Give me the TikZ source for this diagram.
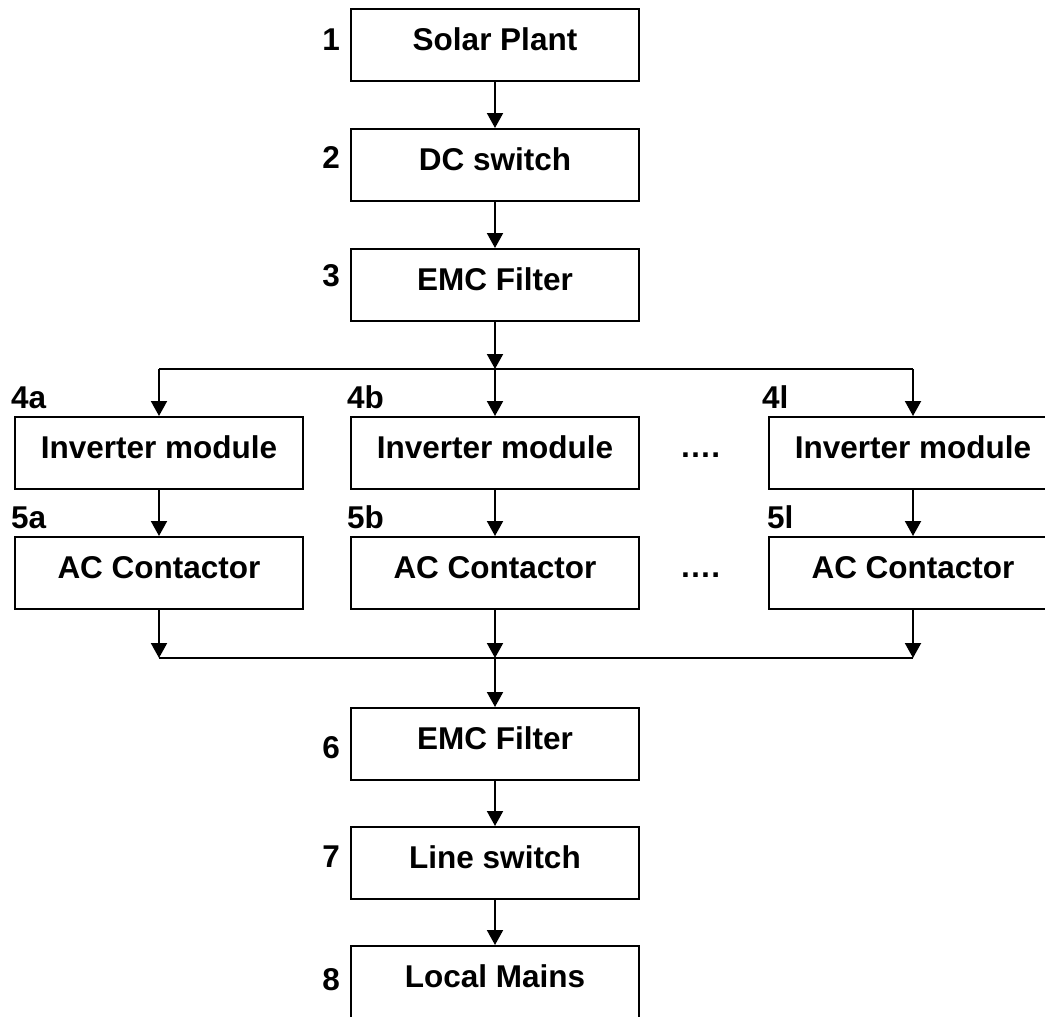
\documentclass[tikz,border=0pt]{standalone}
\usepackage{fontspec}
\setmainfont{Liberation Sans}
\usetikzlibrary{arrows.meta}
\begin{document}
\begin{tikzpicture}[x=1pt,y=-1pt,
  font=\fontsize{31.5}{36}\selectfont\bfseries,
  box/.style={draw, line width=2pt, minimum width=288pt, minimum height=72pt, inner sep=0pt, text height=25pt, text depth=15pt},
  tag/.style={inner sep=0pt},
  wire/.style={line width=2pt},
  arr/.style={wire, -{Triangle[width=16pt,length=15pt]}}
]
\useasboundingbox (0,0) rectangle (1045,1017);
\clip (0,0) rectangle (1045,1017);
% boxes
\node[box] (b1) at (495,45) {Solar Plant};
\node[box] (b2) at (495,165) {DC switch};
\node[box] (b3) at (495,285) {EMC Filter};
\node[box] (b4a) at (159,453) {Inverter module};
\node[box] (b4b) at (495,453) {Inverter module};
\node[box] (b4l) at (913,453) {Inverter module};
\node[box] (b5a) at (159,573) {AC Contactor};
\node[box] (b5b) at (495,573) {AC Contactor};
\node[box] (b5l) at (913,573) {AC Contactor};
\node[box] (b6) at (495,744) {EMC Filter};
\node[box] (b7) at (495,863) {Line switch};
\node[box] (b8) at (495,982) {Local Mains};
% junctions
\coordinate (s) at (495,369);
\coordinate (sa) at (159,369);
\coordinate (sl) at (913,369);
\coordinate (m) at (495,658);
\coordinate (ma) at (159,658);
\coordinate (ml) at (913,658);
% connectors
\draw[arr] (b1) -- (b2);
\draw[arr] (b2) -- (b3);
\draw[arr] (b3) -- (s);
\draw[wire] (sa) -- (sl);
\draw[arr] (sa) -- (b4a);
\draw[arr] (s) -- (b4b);
\draw[arr] (sl) -- (b4l);
\draw[arr] (b4a) -- (b5a);
\draw[arr] (b4b) -- (b5b);
\draw[arr] (b4l) -- (b5l);
\draw[arr] (b5a) -- (ma);
\draw[arr] (b5b) -- (m);
\draw[arr] (b5l) -- (ml);
\draw[wire] (ma) -- (ml);
\draw[arr] (m) -- (b6);
\draw[arr] (b6) -- (b7);
\draw[arr] (b7) -- (b8);
% labels
\node[tag, anchor=base east] (l1) at (340,50) {1};
\node[tag, anchor=base east] (l2) at (340,168) {2};
\node[tag, anchor=base east] (l3) at (340,286) {3};
\node[tag, anchor=base east] (l6) at (340,758) {6};
\node[tag, anchor=base east] (l7) at (340,867) {7};
\node[tag, anchor=base east] (l8) at (340,990) {8};
\node[tag, anchor=base west] (l4a) at (11,408) {4a};
\node[tag, anchor=base west] (l4b) at (347,408) {4b};
\node[tag, anchor=base west] (l4l) at (762,408) {4l};
\node[tag, anchor=base west] (l5a) at (11,528) {5a};
\node[tag, anchor=base west] (l5b) at (347,528) {5b};
\node[tag, anchor=base west] (l5l) at (767,528) {5l};
\node[tag, anchor=base] (d1) at (700,457) {….};
\node[tag, anchor=base] (d2) at (700,577) {….};
\end{tikzpicture}
\end{document}
